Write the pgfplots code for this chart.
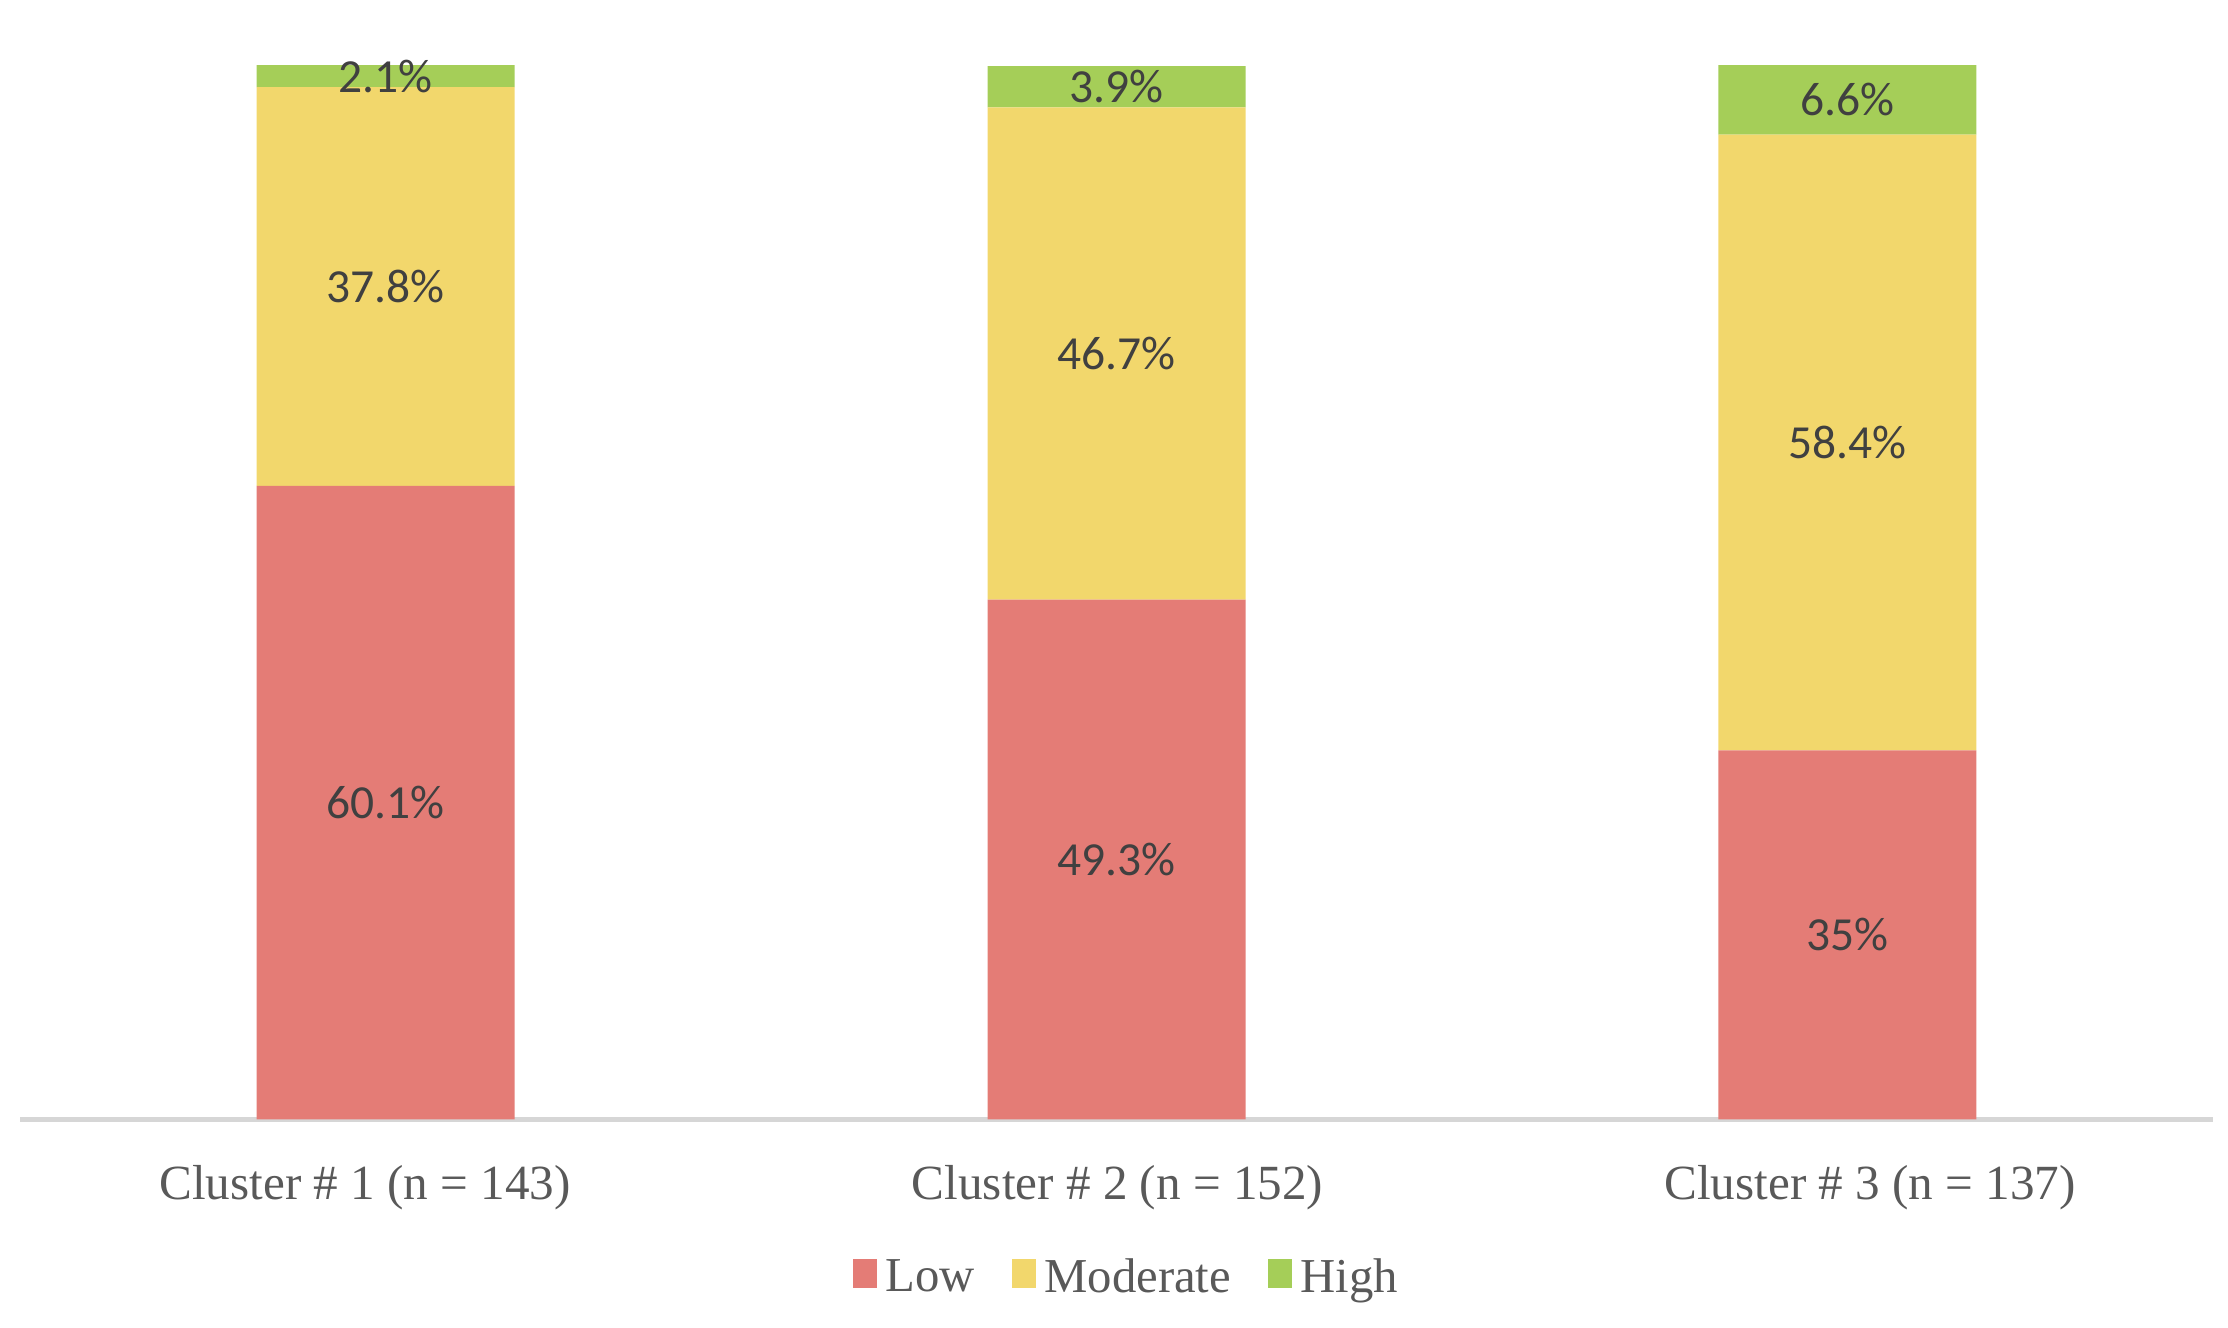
\documentclass[border=0pt]{standalone}
\usepackage{pgfplots}
\pgfplotsset{compat=1.18}
\usepackage{fontspec}
\setmainfont{Liberation Serif}
\newfontfamily\calibri{Carlito}

\definecolor{lowc}{RGB}{228,124,118}
\definecolor{modc}{RGB}{242,215,108}
\definecolor{highc}{RGB}{165,206,88}
\definecolor{axisgray}{RGB}{214,214,214}
\definecolor{labgray}{RGB}{89,89,89}
\definecolor{valgray}{RGB}{64,64,64}

% shares of each risk level per cluster
\pgfplotstableread{
x low mod high
0 60.1 37.8 2.1
1 49.3 46.7 3.9
2 35.0 58.4 6.6
}\shares

% label positions: middle of each segment
\pgfplotstableread{
x y v
0 30.05 60.1
0 79.00 37.8
0 98.95 2.1
1 24.65 49.3
1 72.65 46.7
1 97.95 3.9
2 17.50 35.0
2 64.20 58.4
2 96.70 6.6
}\labels

\pgfplotsset{chartbase/.style={
  scale only axis, width=522pt, height=251pt,
  xmin=-0.5, xmax=2.5, ymin=0, ymax=100,
  clip=false}}

\begin{document}
\begin{tikzpicture}
\begin{axis}[
  chartbase,
  ybar stacked, bar width=0.353,
  axis x line=bottom, hide y axis,
  x axis line style={-, axisgray, line width=1.1pt},
  xtick={-0.028,1.0015,2.031},
  xticklabels={Cluster \# 1 (n = 143), Cluster \# 2 (n = 152), Cluster \# 3 (n = 137)},
  major tick length=0pt,
  xticklabel style={anchor=base, yshift=-19pt, text=labgray, font=\fontsize{11.7}{14}\selectfont},
  legend style={at={(0.506,-0.151)}, anchor=center, draw=none, fill=none,
    legend columns=-1, font=\fontsize{11.6}{14}\selectfont, text=labgray,
    /tikz/every even column/.append style={column sep=6.7pt}},
  legend image code/.code={\fill[#1] (-0.8pt,-2.2pt) rectangle (5.0pt,4.7pt);},
]
\addplot[fill=lowc, draw=none] table[x=x, y=low] {\shares};
\addlegendentry{Low}
\addplot[fill=modc, draw=none] table[x=x, y=mod] {\shares};
\addlegendentry{Moderate}
\addplot[fill=highc, draw=none] table[x=x, y=high] {\shares};
\addlegendentry{High}
\end{axis}
\begin{axis}[
  chartbase, hide axis,
  /pgf/number format/assume math mode=true]
\addplot[only marks, mark=none, point meta=\thisrow{v},
  nodes near coords={\pgfmathprintnumber[fixed, precision=1]{\pgfplotspointmeta}\%},
  every node near coord/.append style={anchor=center, text=valgray,
    font=\calibri\fontsize{11.3}{13}\selectfont}]
  table[x=x, y=y] {\labels};
\end{axis}
\pgfresetboundingbox
\path[use as bounding box] ([xshift=-4.8pt,yshift=-49.5pt]current axis.south west)
  rectangle ([xshift=3.6pt,yshift=15.5pt]current axis.north east);
\end{tikzpicture}
\end{document}
